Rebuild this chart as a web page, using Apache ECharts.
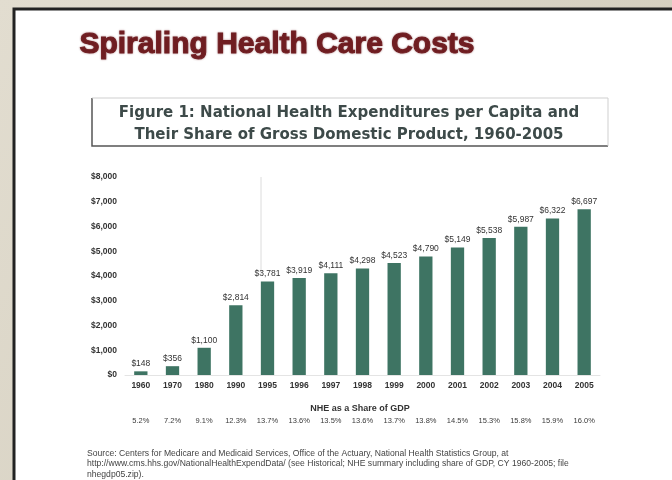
<!DOCTYPE html>
<html>
<head>
<meta charset="utf-8">
<script src="https://cdn.jsdelivr.net/npm/echarts@6/dist/echarts.min.js"></script>
<style>
  html, body { margin: 0; padding: 0; background: #d9d4c5; }
  #chart { width: 672px; height: 480px; }
</style>
</head>
<body>
<div id="chart"></div>
<script>
// National health expenditures per capita, with share of GDP
const years = ['1960', '1970', '1980', '1990', '1995', '1996', '1997', '1998', '1999', '2000', '2001', '2002', '2003', '2004', '2005'];
const perCapita = [148, 356, 1100, 2814, 3781, 3919, 4111, 4298, 4523, 4790, 5149, 5538, 5987, 6322, 6697];
const gdpShare = ['5.2%', '7.2%', '9.1%', '12.3%', '13.7%', '13.6%', '13.5%', '13.6%', '13.7%', '13.8%', '14.5%', '15.3%', '15.8%', '15.9%', '16.0%'];
const yTicks = [0, 1000, 2000, 3000, 4000, 5000, 6000, 7000, 8000];

const fmt = v => '$' + v.toLocaleString('en-US');

const chart = echarts.init(document.getElementById('chart'), null, { renderer: 'canvas' });

chart.setOption({
  animation: false,
  backgroundColor: {
    type: 'linear', x: 0, y: 0, x2: 1, y2: 1,
    colorStops: [{ offset: 0, color: '#e2ddd0' }, { offset: 1, color: '#cfc9b8' }]
  },
  title: {
    text: 'Spiraling Health Care Costs',
    left: 272, top: 25, textAlign: 'center',
    textStyle: {
      fontFamily: 'Liberation Sans', fontWeight: 'bold', fontSize: 30,
      color: '#6f1d21', textBorderColor: '#6f1d21', textBorderWidth: 1,
      textShadowColor: 'rgba(110,30,35,0.45)', textShadowBlur: 2
    }
  },
  graphic: [
    // slide page
    { type: 'rect', z: -10, shape: { x: 14, y: 9, width: 680, height: 490 },
      style: { fill: '#ffffff', stroke: '#222222', lineWidth: 3 } },
    // figure caption box
    { type: 'polyline', z: 1, shape: { points: [[92, 98], [92, 146], [608, 146]] },
      style: { stroke: '#555555', lineWidth: 1.5, fill: null } },
    { type: 'polyline', z: 1, shape: { points: [[92, 98], [608, 98], [608, 146]] },
      style: { stroke: '#cfcfcf', lineWidth: 1, fill: null } },
    { type: 'text', z: 2, style: {
        x: 349, y: 113, text: 'Figure 1: National Health Expenditures per Capita and',
        textAlign: 'center', textVerticalAlign: 'middle',
        font: 'bold 15px "DejaVu Sans"', fill: '#3d4a49' } },
    { type: 'text', z: 2, style: {
        x: 349, y: 135, text: 'Their Share of Gross Domestic Product, 1960-2005',
        textAlign: 'center', textVerticalAlign: 'middle',
        font: 'bold 15px "DejaVu Sans"', fill: '#3d4a49' } },
    // faint vertical rule
    { type: 'line', z: 1, shape: { x1: 261, y1: 177, x2: 261, y2: 275 },
      style: { stroke: '#dcdcdc', lineWidth: 1 } },
    { type: 'text', z: 2, style: {
        x: 360, y: 409, text: 'NHE as a Share of GDP',
        textAlign: 'center', textVerticalAlign: 'middle',
        font: 'bold 9px "Liberation Sans"', fill: '#333333' } },
    { type: 'text', z: 2, style: {
        x: 87, y: 448,
        text: 'Source: Centers for Medicare and Medicaid Services, Office of the Actuary, National Health Statistics Group, at\n' +
              'http://www.cms.hhs.gov/NationalHealthExpendData/ (see Historical; NHE summary including share of GDP, CY 1960-2005; file\n' +
              'nhegdp05.zip).',
        lineHeight: 10.5, textVerticalAlign: 'top',
        font: '8.6px "Liberation Sans"', fill: '#444444' } }
  ],
  grid: { left: 125, right: 72, top: 177, bottom: 105, containLabel: false },
  xAxis: [
    {
      type: 'category', data: years, position: 'bottom',
      axisLine: { show: true, lineStyle: { color: '#e4e4e4' } },
      axisTick: { show: false },
      axisLabel: { fontSize: 8.5, fontWeight: 'bold', color: '#333', margin: 6, fontFamily: 'Liberation Sans' }
    },
    {
      type: 'category', data: gdpShare, position: 'bottom', offset: 42,
      axisLine: { show: false }, axisTick: { show: false },
      axisLabel: { fontSize: 7.5, color: '#3a3a3a', margin: 0, fontFamily: 'Liberation Sans' }
    }
  ],
  yAxis: {
    type: 'value', min: 0, max: 8000, interval: 1000,
    axisLine: { show: false }, axisTick: { show: false },
    splitLine: { show: false },
    axisLabel: {
      fontSize: 8.5, fontWeight: 'bold', color: '#333', margin: 8, fontFamily: 'Liberation Sans',
      formatter: v => yTicks.includes(v) ? fmt(v) : ''
    }
  },
  series: [{
    type: 'bar', data: perCapita, xAxisIndex: 0,
    barWidth: '42%',
    itemStyle: { color: '#3e7463' },
    label: {
      show: true, position: 'top', distance: 3,
      formatter: p => fmt(p.value),
      fontSize: 8.5, color: '#333', fontFamily: 'Liberation Sans'
    }
  }]
});
</script>
</body>
</html>
